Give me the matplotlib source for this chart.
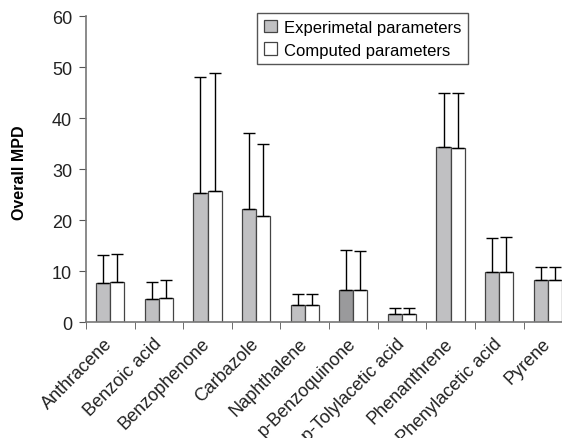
import matplotlib.pyplot as plt
import matplotlib.transforms as mtransforms
import numpy as np

plt.rcParams['font.family'] = ['Liberation Sans', 'DejaVu Sans']

compounds = ["Anthracene", "Benzoic acid", "Benzophenone", "Carbazole", "Naphthalene",
             "p-Benzoquinone", "p-Tolylacetic acid", "Phenanthrene", "Phenylacetic acid", "Pyrene"]
exp_mpd = [7.6, 4.5, 25.4, 22.1, 3.4, 6.3, 1.6, 34.4, 9.9, 8.3]
exp_sd = [5.5, 3.3, 22.6, 14.9, 2.1, 7.9, 1.1, 10.6, 6.5, 2.5]
comp_mpd = [7.8, 4.7, 25.7, 20.9, 3.4, 6.3, 1.6, 34.1, 9.9, 8.3]
comp_sd = [5.6, 3.5, 23.1, 14.1, 2.1, 7.7, 1.1, 10.9, 6.7, 2.5]

x = np.arange(len(compounds))
w = 0.29
exp_colors = ["#c0c0c2"] * len(compounds)
exp_colors[5] = "#9a9a9c"

fig = plt.figure(figsize=(5.62, 4.39), dpi=100)
# axes runs past the right edge, as in the original
ax = fig.add_axes([0.153, 0.264, 0.865, 0.697])

err_kw = {'ecolor': 'black', 'elinewidth': 1.0, 'capsize': 4, 'capthick': 1.0}
ax.bar(x - w / 2, exp_mpd, w, color=exp_colors, edgecolor='#444444', linewidth=0.9,
       yerr=[np.zeros(len(x)), exp_sd], error_kw=err_kw, label="Experimetal parameters")
ax.bar(x + w / 2, comp_mpd, w, color='white', edgecolor='#444444', linewidth=0.9,
       yerr=[np.zeros(len(x)), comp_sd], error_kw=err_kw, label="Computed parameters")

ax.set_xlim(-0.5, len(compounds) - 0.5)
ax.set_ylim(0, 60)
ax.set_yticks(range(0, 61, 10))
ax.set_xticks(x)
ax.set_xticklabels(compounds, rotation=45, ha='right', va='top', rotation_mode='anchor')
ax.tick_params(axis='x', which='major', length=0, pad=9)
ax.set_xticks(np.arange(-0.5, len(compounds), 1.0), minor=True)
ax.tick_params(axis='x', which='minor', length=5, color='#555555', direction='out')
ax.tick_params(axis='y', length=5, color='#555555', direction='out', pad=5)
ax.tick_params(labelsize=13, labelcolor='#222222')

# nudge the slanted labels a bit to the left
shift = mtransforms.ScaledTranslation(-6 / 100, 0, fig.dpi_scale_trans)
for lbl in ax.get_xticklabels():
    lbl.set_transform(lbl.get_transform() + shift)

for s in ['top', 'right']:
    ax.spines[s].set_visible(False)
for s in ['left', 'bottom']:
    ax.spines[s].set_color('#777777')
    ax.spines[s].set_linewidth(1.2)

ax.set_ylabel("Overall MPD", fontsize=11.5, fontweight='bold')
ax.yaxis.set_label_coords(-0.122, 0.49)

leg = ax.legend(loc='upper left', bbox_to_anchor=(0.352, 1.01), fontsize=12,
                handlelength=0.8, handleheight=0.8, handletextpad=0.4,
                fancybox=False, edgecolor='#555555', framealpha=1, borderpad=0.4,
                labelspacing=0.45, borderaxespad=0)
leg.get_frame().set_linewidth(1.0)

fig.savefig("out.png", dpi=100)
